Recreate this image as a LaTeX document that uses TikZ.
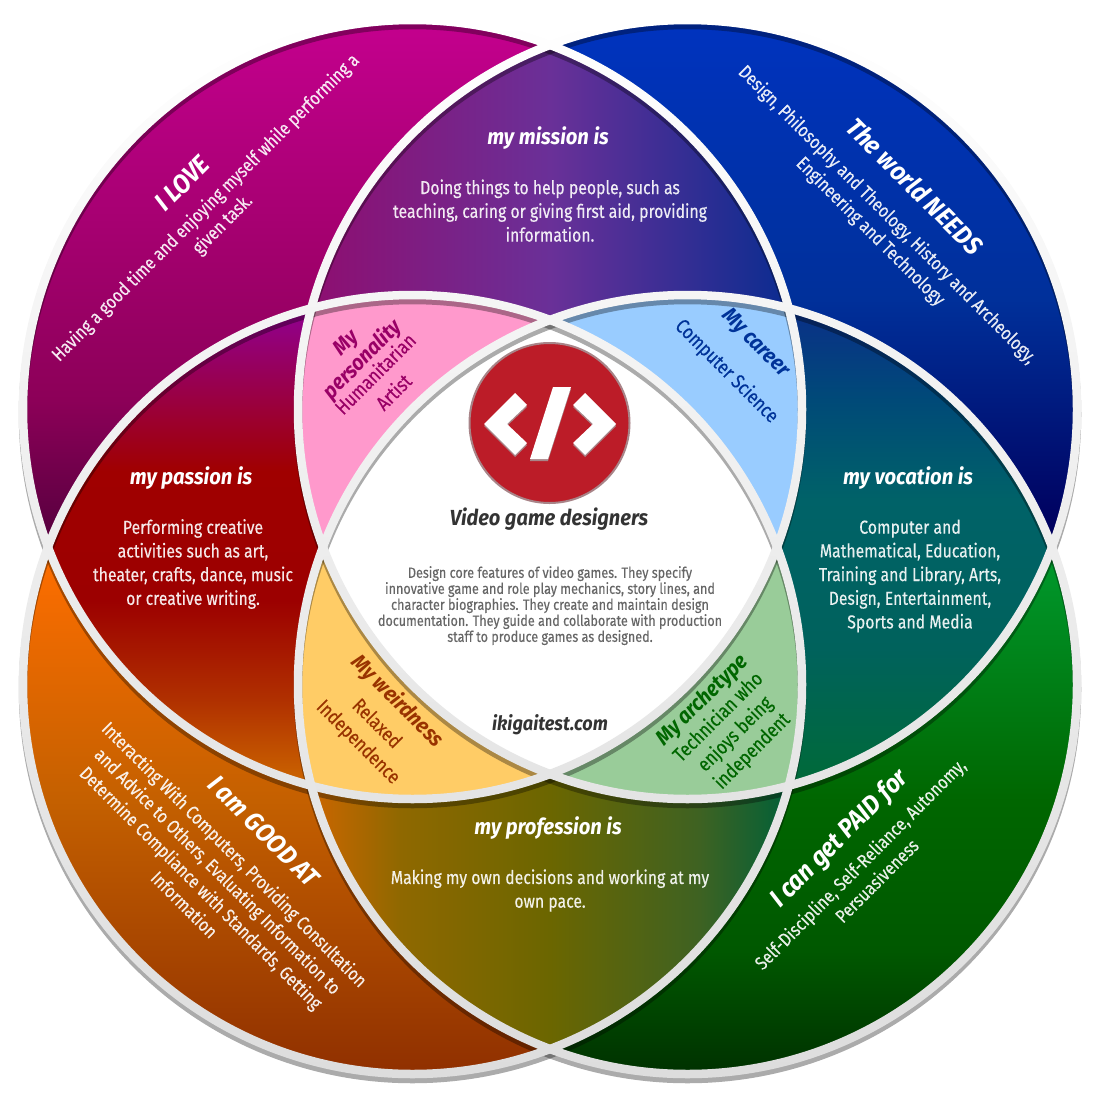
\documentclass[tikz,border=0pt]{standalone}
\usepackage{fontspec}
\setmainfont[FakeStretch=0.84,FakeBold=0.25]{Fira Sans}
\newfontfamily\hf[FakeStretch=0.92]{Fira Sans}
\usetikzlibrary{calc}
\definecolor{vtla}{HTML}{C4008E}\definecolor{vtlb}{HTML}{8C0058}\definecolor{vtlc}{HTML}{5A0040}
\definecolor{vtra}{HTML}{0033BF}\definecolor{vtrb}{HTML}{00309A}\definecolor{vtrc}{HTML}{00005E}
\definecolor{vbla}{HTML}{FF6E00}\definecolor{vblb}{HTML}{C46000}\definecolor{vblc}{HTML}{8F2F00}
\definecolor{vbra}{HTML}{009A2E}\definecolor{vbrb}{HTML}{006600}\definecolor{vbrd}{HTML}{005800}\definecolor{vbrc}{HTML}{003000}
\definecolor{vpa}{HTML}{900090}\definecolor{vpb}{HTML}{9A0040}\definecolor{vpc}{HTML}{A00000}\definecolor{vpd}{HTML}{9C0000}\definecolor{vpe}{HTML}{B03000}\definecolor{vpf}{HTML}{CC6600}
\definecolor{vva}{HTML}{0A3088}\definecolor{vvb}{HTML}{004A78}\definecolor{vvc}{HTML}{006268}\definecolor{vvd}{HTML}{00625C}\definecolor{vve}{HTML}{006A38}
\definecolor{vma}{HTML}{8E0E70}\definecolor{vmb}{HTML}{6A3098}\definecolor{vmc}{HTML}{0A2C90}
\definecolor{vra}{HTML}{CC6600}\definecolor{vrd}{HTML}{8F6800}\definecolor{vrb}{HTML}{6B6600}\definecolor{vre}{HTML}{3E6222}\definecolor{vrc}{HTML}{006038}
\definecolor{pinkreg}{HTML}{FF99CC}\definecolor{bluereg}{HTML}{99CCFF}\definecolor{yellowreg}{HTML}{FFCC66}\definecolor{greenreg}{HTML}{99CC99}
\definecolor{logored}{HTML}{BC1C28}\definecolor{logoedge}{HTML}{A88488}
\definecolor{inkpink}{HTML}{990066}\definecolor{inkblue}{HTML}{003399}\definecolor{inkbrown}{HTML}{993300}\definecolor{inkgreen}{HTML}{006600}
\definecolor{inkdark}{HTML}{333333}\definecolor{inkgray}{HTML}{666666}
\definecolor{bandA}{HTML}{FFFFFF}\definecolor{bandB}{HTML}{E4E4E4}\definecolor{bandC}{HTML}{F5F5F5}\definecolor{bandD}{HTML}{DDDDDD}
% vertical stops: bp = 75 - y/22 ; horizontal stops: bp = 25 + x/22
\pgfdeclareverticalshading{gTL}{100bp}{color(0bp)=(vtlc); color(50.9bp)=(vtlc); color(56.8bp)=(vtlb); color(74.1bp)=(vtla); color(100bp)=(vtla)}
\pgfdeclareverticalshading{gTR}{100bp}{color(0bp)=(vtrc); color(50.9bp)=(vtrc); color(61.4bp)=(vtrb); color(74.1bp)=(vtra); color(100bp)=(vtra)}
\pgfdeclareverticalshading{gBL}{100bp}{color(0bp)=(vblc); color(26bp)=(vblc); color(38.6bp)=(vblb); color(50bp)=(vbla); color(100bp)=(vbla)}
\pgfdeclareverticalshading{gBR}{100bp}{color(0bp)=(vbrc); color(26bp)=(vbrc); color(31.8bp)=(vbrd); color(38.6bp)=(vbrb); color(50bp)=(vbra); color(100bp)=(vbra)}
\pgfdeclareverticalshading{gPas}{100bp}{color(0bp)=(vpf); color(39.3bp)=(vpf); color(43.2bp)=(vpe); color(47.7bp)=(vpd); color(53.6bp)=(vpc); color(56.8bp)=(vpb); color(60.9bp)=(vpa); color(100bp)=(vpa)}
\pgfdeclareverticalshading{gVoc}{100bp}{color(0bp)=(vve); color(39.3bp)=(vve); color(45.5bp)=(vvd); color(52.3bp)=(vvc); color(56.8bp)=(vvb); color(60.9bp)=(vva); color(100bp)=(vva)}
\pgfdeclarehorizontalshading{gMis}{100bp}{color(0bp)=(vma); color(39.1bp)=(vma); color(50bp)=(vmb); color(60.9bp)=(vmc); color(100bp)=(vmc)}
\pgfdeclarehorizontalshading{gPro}{100bp}{color(0bp)=(vra); color(39.1bp)=(vra); color(43.2bp)=(vrd); color(50bp)=(vrb); color(56.8bp)=(vre); color(60.9bp)=(vrc); color(100bp)=(vrc)}
\newcommand\inC[1]{\clip (#1) circle[radius=389.5];}
\newcommand\outC[1]{\clip (-100,-100) rectangle (1200,1200) (#1) circle[radius=389.5];}
\newcommand\regv[2]{\begin{scope}[even odd rule]#2\shade[shading=#1] (0,0) rectangle (1100,1100);\end{scope}}
\newcommand\regf[2]{\begin{scope}[even odd rule]#2\fill[#1] (0,0) rectangle (1100,1100);\end{scope}}
\newcommand\sz[2]{\fontsize{#1}{#2}\selectfont}
\tikzset{
  base/.style={inner sep=0pt,align=center,text depth=0pt},
  head/.style={base,white,font=\hf\sz{22}{24}\bfseries\itshape},
  big/.style={base,white,font=\hf\sz{26}{30}\bfseries\itshape},
  body/.style={base,white,text opacity=.9,font=\sz{18.8}{23.7}},
  petalhead/.style={base,font=\hf\sz{21.5}{24}\bfseries\itshape},
  petalbody/.style={base,font=\sz{20}{26}},
  petalthree/.style={base,font=\sz{20}{24}},
  shadowring/.style={black,opacity=.33,line width=8.5},
}
\begin{document}
\begin{tikzpicture}[x=1pt,y=-1pt]
\useasboundingbox (0,0) rectangle (1100,1100);
\coordinate (TL) at (412.5,409.5);
\coordinate (TR) at (687.5,409.5);
\coordinate (BL) at (412.5,684.5);
\coordinate (BR) at (687.5,684.5);
% regions
\regv{gTL}{\inC{TL}\outC{TR}\outC{BL}\outC{BR}}
\regv{gTR}{\inC{TR}\outC{TL}\outC{BL}\outC{BR}}
\regv{gBL}{\inC{BL}\outC{TL}\outC{TR}\outC{BR}}
\regv{gBR}{\inC{BR}\outC{TL}\outC{TR}\outC{BL}}
\regv{gMis}{\inC{TL}\inC{TR}\outC{BL}\outC{BR}}
\regv{gPro}{\inC{BL}\inC{BR}\outC{TL}\outC{TR}}
\regv{gPas}{\inC{TL}\inC{BL}\outC{TR}\outC{BR}}
\regv{gVoc}{\inC{TR}\inC{BR}\outC{TL}\outC{BL}}
\regf{pinkreg}{\inC{TL}\inC{TR}\inC{BL}\outC{BR}}
\regf{bluereg}{\inC{TL}\inC{TR}\inC{BR}\outC{BL}}
\regf{yellowreg}{\inC{TL}\inC{BL}\inC{BR}\outC{TR}}
\regf{greenreg}{\inC{TR}\inC{BL}\inC{BR}\outC{TL}}
\regf{white}{\inC{TL}\inC{TR}\inC{BL}\inC{BR}}
% band shadows
\foreach \c in {TL,TR,BL,BR}{
  \draw[shadowring] ($(\c)+(0,5)$) circle[radius=389.5];
}
% bands
\foreach \c/\ca/\cb in {TL/bandA/bandB,TR/bandA/bandB,BL/bandC/bandD,BR/bandC/bandD}{
  \shade[even odd rule,top color=\ca,bottom color=\cb] (\c) circle[radius=393.75] (\c) circle[radius=385.25];
}
% logo
\node[circle,minimum size=160pt,inner sep=0pt,fill=logored,draw=logoedge,line width=2pt] (logo) at (549.5,423) {};
\foreach \dy/\col in {2/logoedge,0/white}{
  \begin{scope}[shift={(0,\dy)}]
    \fill[\col] (484,424)--(515,393)--(527,405)--(507,424)--(527,443)--(515,455)--cycle;
    \fill[\col] (616,424)--(585,393)--(573,405)--(593,424)--(573,443)--(585,455)--cycle;
    \fill[\col] (553,387)--(571,387)--(548,459)--(530,459)--cycle;
  \end{scope}
}
% circle titles and texts
\node[big,rotate=45] (love) at (182,183) {I LOVE};
\node[body,rotate=45] (lovet) at (213,215) {Having a good time and enjoying myself while performing a\\given task.};
\node[big,rotate=-45] (needs) at (915,186) {The world NEEDS};
\node[body,rotate=-45] (needst) at (880,222) {Design, Philosophy and Theology, History and Archeology,\\Engineering and Technology};
\node[big,rotate=-45] (good) at (264,831) {I am GOOD AT};
\node[body,rotate=-45] (goodt) at (210,879) {Interacting With Computers, Providing Consultation\\and Advice to Others, Evaluating Information to\\Determine Compliance with Standards, Getting\\Information};
\node[big,rotate=45] (paid) at (838,837) {I can get PAID for};
\node[body,rotate=45] (paidt) at (868,872) {Self-Discipline, Self-Reliance, Autonomy,\\Persuasiveness};
% lens texts
\node[head] (mis) at (548,136) {my mission is};
\node[body] (mist) at (550,210.5) {Doing things to help people, such as\\teaching, caring or giving first aid, providing\\information.};
\node[head] (pas) at (191,476) {my passion is};
\node[body] (past) at (193,562) {Performing creative\\activities such as art,\\theater, crafts, dance, music\\or creative writing.};
\node[head] (voc) at (908,476) {my vocation is};
\node[body] (voct) at (910,574) {Computer and\\Mathematical, Education,\\Training and Library, Arts,\\Design, Entertainment,\\Sports and Media};
\node[head] (pro) at (548,826) {my profession is};
\node[body] (prot) at (550,888.5) {Making my own decisions and working at my\\own pace.};
% petals
\node[petalhead,text=inkpink,rotate=45] (perh) at (353.5,350.5) {My\\personality};
\node[petalbody,text=inkpink,rotate=45] (pert) at (384,382.5) {Humanitarian\\Artist};
\node[petalhead,text=inkblue,rotate=-45] (carh) at (757,342) {My career};
\node[petalbody,text=inkblue,rotate=-45] (cart) at (728,370) {Computer Science};
\node[petalhead,text=inkbrown,rotate=-45] (weih) at (399,700) {My weirdness};
\node[petalbody,text=inkbrown,rotate=-45] (weit) at (368.5,732) {Relaxed\\Independence};
\node[petalhead,text=inkgreen,rotate=45] (arch) at (701,699) {My archetype};
\node[petalthree,text=inkgreen,rotate=45] (arct) at (734,733) {Technician who\\enjoys being\\independent};
% centre
\node[base,text=inkdark,font=\hf\sz{21.8}{26}\bfseries\itshape] (title) at (549,517) {Video game designers};
\node[base,text=inkgray,font=\sz{15}{16}] (desc) at (550,604) {Design core features of video games. They specify\\innovative game and role play mechanics, story lines, and\\character biographies. They create and maintain design\\documentation. They guide and collaborate with production\\staff to produce games as designed.};
\node[base,text=inkdark,font=\hf\sz{19.7}{22}\bfseries\itshape] (site) at (550,723) {ikigaitest.com};
\end{tikzpicture}
\end{document}
